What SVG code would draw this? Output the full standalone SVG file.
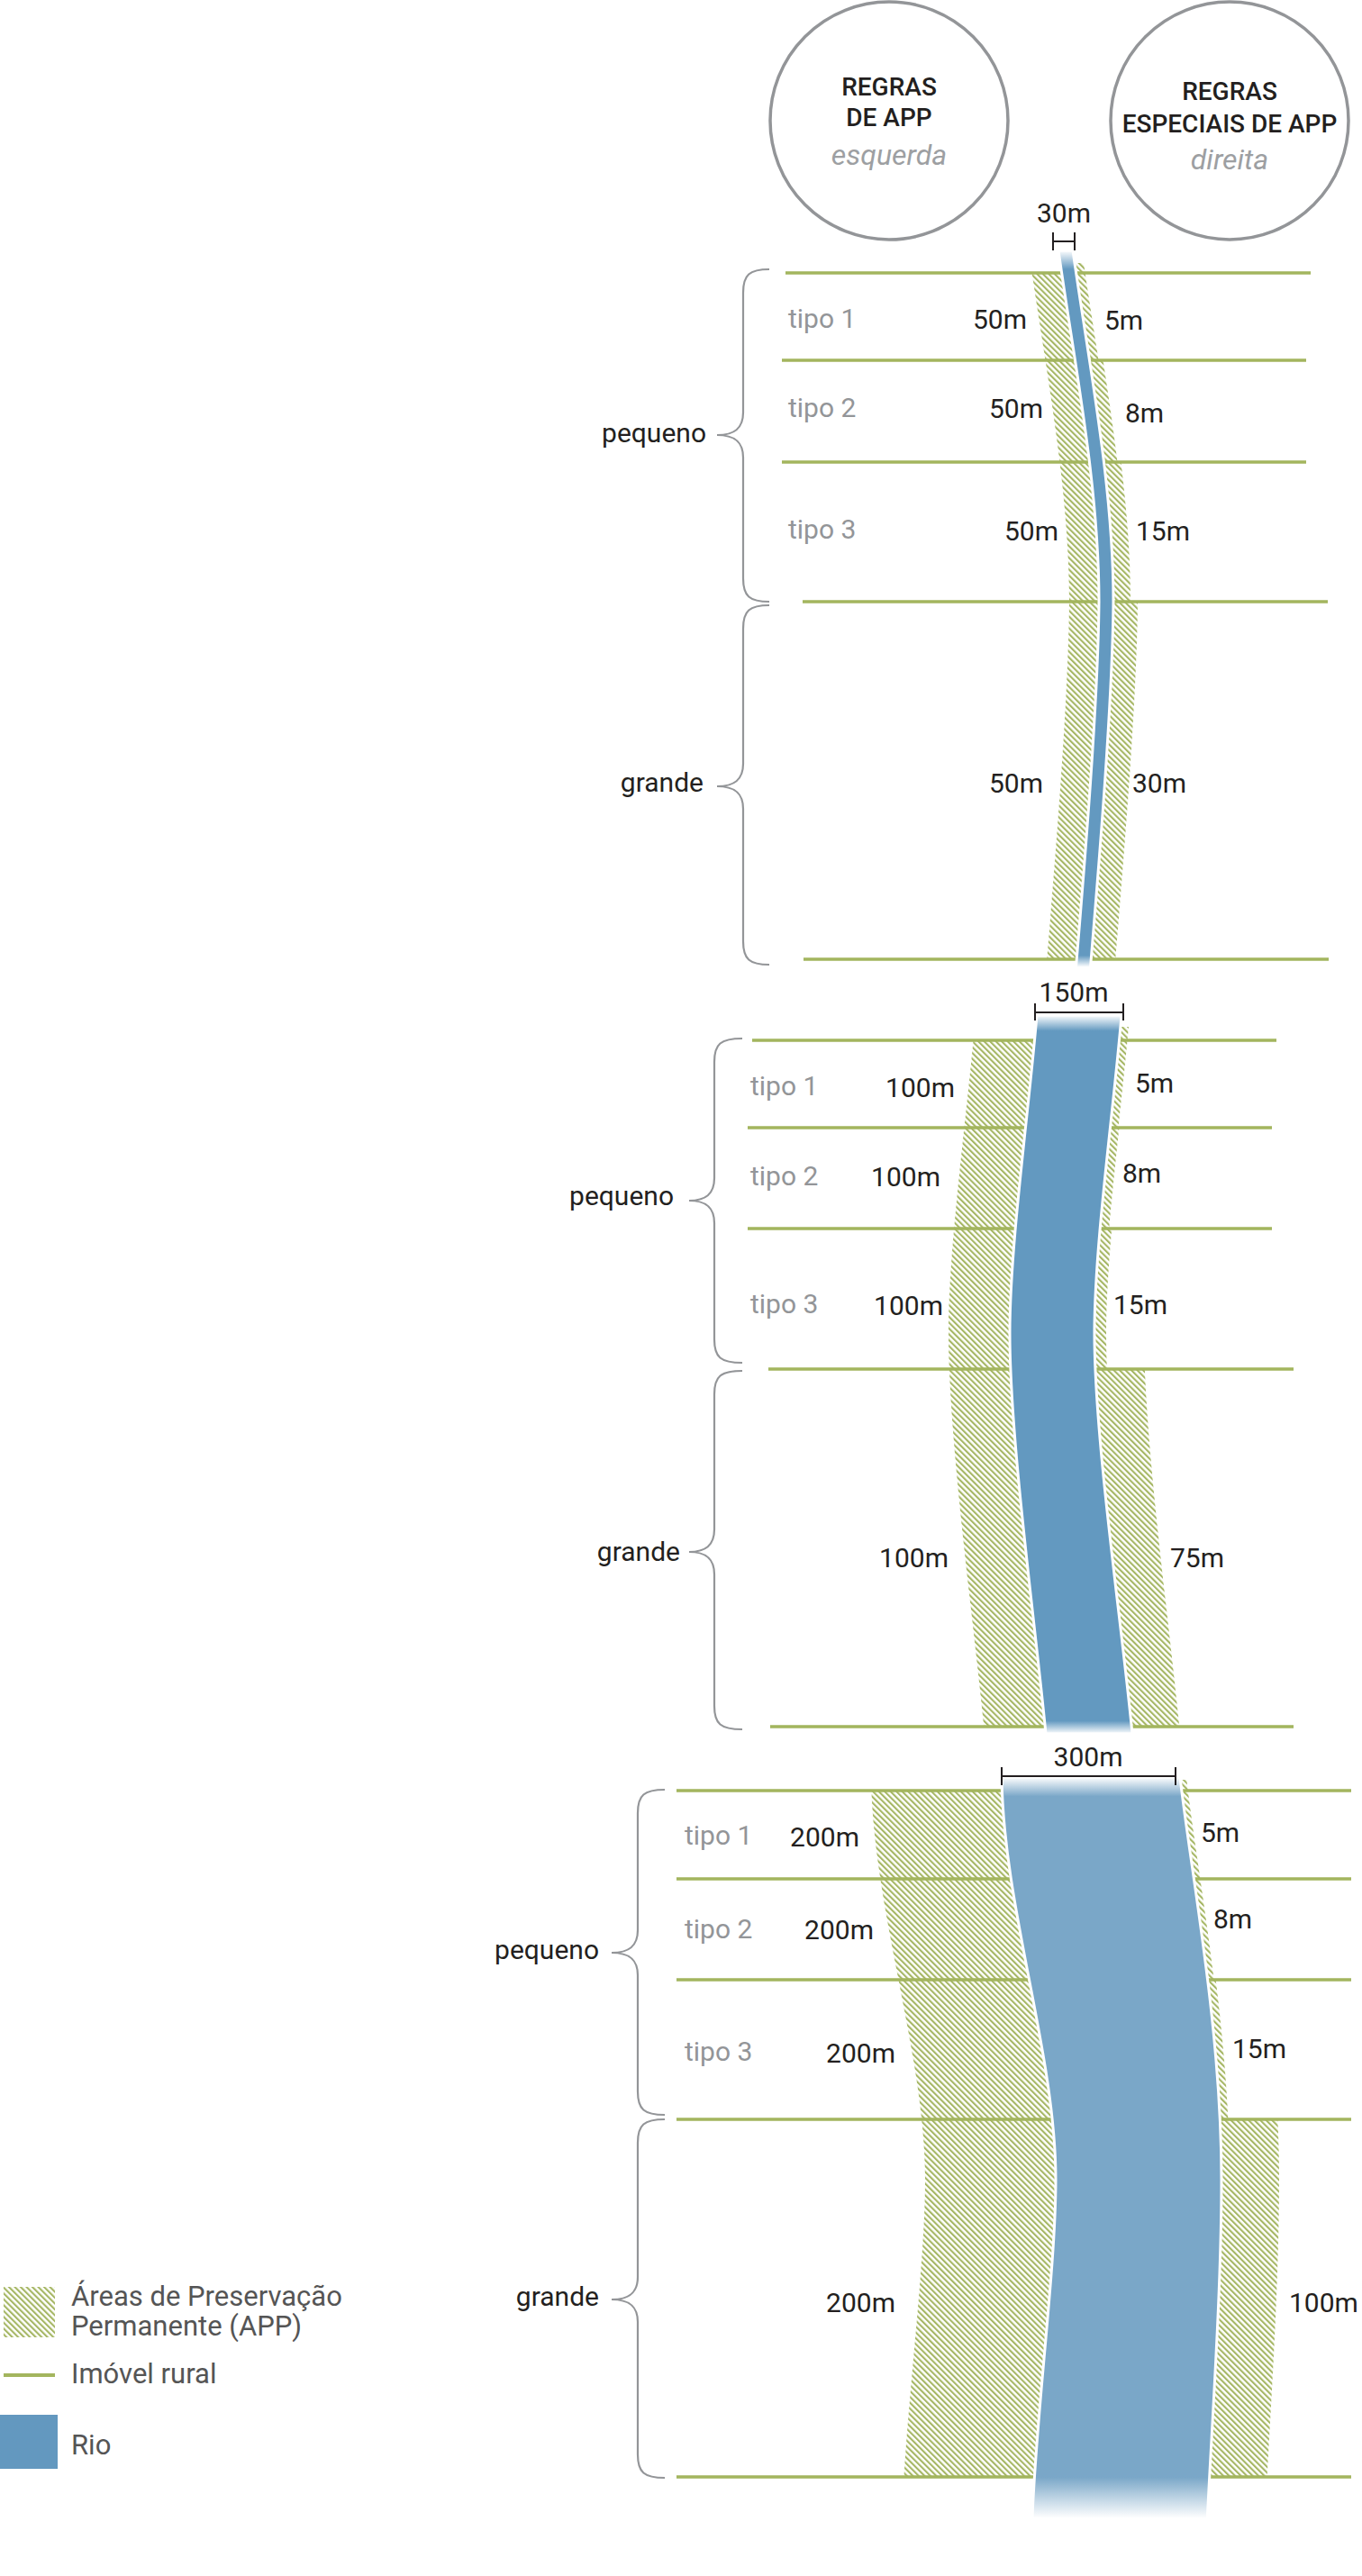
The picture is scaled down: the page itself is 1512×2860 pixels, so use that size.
<svg xmlns="http://www.w3.org/2000/svg" width="1512" height="2860" viewBox="0 0 1512 2860">
<style>
.circ{fill:none;stroke:#939598;stroke-width:3.5}
.ct{font-family:Roboto,'Liberation Sans',sans-serif;font-size:28px;font-weight:500;fill:#231f20;text-anchor:middle}
.ci{font-family:Roboto,'Liberation Sans',sans-serif;font-size:32px;font-style:italic;fill:#9d9fa2;text-anchor:middle}
.lbl{font-family:Roboto,'Liberation Sans',sans-serif;font-size:30px;fill:#231f20}
.end{text-anchor:end}
.mid{text-anchor:middle}
.tipo{font-family:Roboto,'Liberation Sans',sans-serif;font-size:30px;fill:#939598}
.prop{fill:none;stroke:#a3b55e;stroke-width:3.5}
.brace{fill:none;stroke:#939598;stroke-width:2.2}
.bar{fill:none;stroke:#231f20;stroke-width:2}
.app{fill:url(#hatch)}
.river{stroke:#ffffff;stroke-width:3}
.leg{font-family:Roboto,'Liberation Sans',sans-serif;font-size:31px;fill:#555555}
</style>
<defs>
<pattern id="hatch" patternUnits="userSpaceOnUse" width="4.6" height="4.6" patternTransform="rotate(-45)">
<rect x="0" y="0" width="2.1" height="4.6" fill="#a5b663"/>
</pattern>
<linearGradient id="g1" gradientUnits="userSpaceOnUse" x1="0" y1="278" x2="0" y2="1080">
<stop offset="0" stop-color="#ffffff"/><stop offset="0.026" stop-color="#6399c0"/><stop offset="0.976" stop-color="#6399c0"/><stop offset="0.992" stop-color="#ffffff"/>
</linearGradient>
<linearGradient id="g2" gradientUnits="userSpaceOnUse" x1="0" y1="1127" x2="0" y2="1925">
<stop offset="0" stop-color="#ffffff"/><stop offset="0.022" stop-color="#6399c0"/><stop offset="0.982" stop-color="#6399c0"/><stop offset="1" stop-color="#ffffff"/>
</linearGradient>
<linearGradient id="g3" gradientUnits="userSpaceOnUse" x1="0" y1="1973" x2="0" y2="2800">
<stop offset="0" stop-color="#ffffff"/><stop offset="0.026" stop-color="#7aa7c8"/><stop offset="0.94" stop-color="#7aa7c8"/><stop offset="0.995" stop-color="#ffffff"/>
</linearGradient>
<clipPath id="c1L"><rect x="0" y="303" width="1512" height="762"/></clipPath>
<clipPath id="c1a"><rect x="0" y="292" width="1512" height="108"/></clipPath>
<clipPath id="c1b"><rect x="0" y="400" width="1512" height="113"/></clipPath>
<clipPath id="c1c"><rect x="0" y="513" width="1512" height="155"/></clipPath>
<clipPath id="c1d"><rect x="0" y="668" width="1512" height="397"/></clipPath>
<clipPath id="c2L"><rect x="0" y="1155" width="1512" height="762"/></clipPath>
<clipPath id="c2a"><rect x="0" y="1140" width="1512" height="112"/></clipPath>
<clipPath id="c2b"><rect x="0" y="1252" width="1512" height="112"/></clipPath>
<clipPath id="c2c"><rect x="0" y="1364" width="1512" height="156"/></clipPath>
<clipPath id="c2d"><rect x="0" y="1520" width="1512" height="397"/></clipPath>
<clipPath id="c3L"><rect x="0" y="1988" width="1512" height="762"/></clipPath>
<clipPath id="c3ab"><rect x="0" y="1976" width="1512" height="222"/></clipPath>
<clipPath id="c3c"><rect x="0" y="2198" width="1512" height="155"/></clipPath>
<clipPath id="c3d"><rect x="0" y="2353" width="1512" height="397"/></clipPath>
</defs>

<g id="circle-esquerda">
<circle class="circ" cx="987" cy="134" r="132"/>
<text class="ct" x="987" y="106">REGRAS</text>
<text class="ct" x="987" y="140">DE APP</text>
<text class="ci" x="987" y="183">esquerda</text>
</g>
<g id="circle-direita">
<circle class="circ" cx="1365" cy="134" r="132"/>
<text class="ct" x="1365" y="111">REGRAS</text>
<text class="ct" x="1365" y="147">ESPECIAIS DE APP</text>
<text class="ci" x="1365" y="188">direita</text>
</g>

<g id="rio-30m">
<g id="app-30m">
<path class="app" clip-path="url(#c1L)" d="M1142,278 C1159,400 1187,538 1187,668 C1186,780 1171,960 1161,1080 L1194,1080 C1204,960 1219,780 1220,668 C1220,538 1192,400 1175,278 Z"/>
<path class="app" clip-path="url(#c1a)" d="M1191,278 C1208,400 1236,538 1236,668 C1235,780 1220,960 1210,1080 L1220,1080 C1230,960 1245,780 1246,668 C1246,538 1218,400 1201,278 Z"/>
<path class="app" clip-path="url(#c1b)" d="M1191,278 C1208,400 1236,538 1236,668 C1235,780 1220,960 1210,1080 L1225,1080 C1235,960 1250,780 1251,668 C1251,538 1223,400 1206,278 Z"/>
<path class="app" clip-path="url(#c1c)" d="M1191,278 C1208,400 1236,538 1236,668 C1235,780 1220,960 1210,1080 L1229,1080 C1239,960 1254,780 1255,668 C1255,538 1227,400 1210,278 Z"/>
<path class="app" clip-path="url(#c1d)" d="M1191,278 C1208,400 1236,538 1236,668 C1235,780 1220,960 1210,1080 L1237,1080 C1247,960 1262,780 1263,668 C1263,538 1235,400 1218,278 Z"/>
</g>
<g id="imovel-30m">
<path class="prop" d="M872,303 H1455 M868,400 H1450 M868,513 H1450 M891,668 H1474 M892,1065 H1475"/>
</g>
<path id="agua-30m" class="river" fill="url(#g1)" d="M1175,278 C1192,400 1220,538 1220,668 C1219,780 1204,960 1194,1080 L1210,1080 C1220,960 1235,780 1236,668 C1236,538 1208,400 1191,278 Z"/>
<g id="escala-30m">
<path class="bar" d="M1169,258 V278 M1193,258 V278 M1169,268 H1193"/>
<text class="lbl mid" x="1181" y="247">30m</text>
</g>
<g id="chaves-30m">
<path class="brace" d="M854,299 C832,299 825,305 825,325 L825,458 C825,476 815,483 796,483 C815,483 825,490 825,508 L825,642 C825,662 832,668 854,668"/>
<path class="brace" d="M854,672 C832,672 825,678 825,698 L825,848 C825,866 815,873 796,873 C815,873 825,880 825,898 L825,1045 C825,1065 832,1071 854,1071"/>
<text class="lbl end" x="784" y="491">pequeno</text>
<text class="lbl end" x="781" y="879">grande</text>
</g>
<g id="rotulos-30m">
<text class="tipo" x="875" y="364">tipo 1</text>
<text class="tipo" x="875" y="463">tipo 2</text>
<text class="tipo" x="875" y="598">tipo 3</text>
<text class="lbl end" x="1140" y="365">50m</text>
<text class="lbl" x="1226" y="366">5m</text>
<text class="lbl end" x="1158" y="464">50m</text>
<text class="lbl" x="1249" y="469">8m</text>
<text class="lbl end" x="1175" y="600">50m</text>
<text class="lbl" x="1261" y="600">15m</text>
<text class="lbl end" x="1158" y="880">50m</text>
<text class="lbl" x="1257" y="880">30m</text>
</g>
</g>

<g id="rio-150m">
<g id="app-150m">
<path class="app" clip-path="url(#c2L)" d="M1083,1127 C1075,1227 1053,1380 1053,1480 C1053,1600 1081,1800 1093,1925 L1161,1925 C1149,1800 1121,1600 1121,1480 C1121,1380 1143,1227 1151,1127 Z"/>
<path class="app" clip-path="url(#c2a)" d="M1245,1127 C1237,1227 1215,1380 1215,1480 C1215,1600 1243,1800 1255,1925 L1264,1925 C1252,1800 1224,1600 1224,1480 C1224,1380 1246,1227 1254,1127 Z"/>
<path class="app" clip-path="url(#c2b)" d="M1245,1127 C1237,1227 1215,1380 1215,1480 C1215,1600 1243,1800 1255,1925 L1265,1925 C1253,1800 1225,1600 1225,1480 C1225,1380 1247,1227 1255,1127 Z"/>
<path class="app" clip-path="url(#c2c)" d="M1245,1127 C1237,1227 1215,1380 1215,1480 C1215,1600 1243,1800 1255,1925 L1268,1925 C1256,1800 1228,1600 1228,1480 C1228,1380 1250,1227 1258,1127 Z"/>
<path class="app" clip-path="url(#c2d)" d="M1245,1127 C1237,1227 1215,1380 1215,1480 C1215,1600 1243,1800 1255,1925 L1310,1925 C1298,1800 1270,1600 1270,1480 C1270,1380 1292,1227 1300,1127 Z"/>
</g>
<g id="imovel-150m">
<path class="prop" d="M835,1155 H1417 M830,1252 H1412 M830,1364 H1412 M853,1520 H1436 M855,1917 H1436"/>
</g>
<path id="agua-150m" class="river" fill="url(#g2)" d="M1151,1127 C1143,1227 1121,1380 1121,1480 C1121,1600 1149,1800 1161,1925 L1257,1925 C1245,1800 1215,1600 1215,1480 C1215,1380 1237,1227 1245,1127 Z"/>
<g id="escala-150m">
<path class="bar" d="M1149,1114 V1133 M1247,1114 V1133 M1149,1124 H1247"/>
<text class="lbl mid" x="1192" y="1112">150m</text>
</g>
<g id="chaves-150m">
<path class="brace" d="M824,1153 C800,1153 793,1159 793,1179 L793,1308 C793,1326 783,1333 765,1333 C783,1333 793,1340 793,1358 L793,1487 C793,1507 800,1513 824,1513"/>
<path class="brace" d="M824,1522 C800,1522 793,1528 793,1548 L793,1698 C793,1716 783,1723 765,1723 C783,1723 793,1730 793,1748 L793,1894 C793,1914 800,1920 824,1920"/>
<text class="lbl end" x="748" y="1338">pequeno</text>
<text class="lbl end" x="755" y="1733">grande</text>
</g>
<g id="rotulos-150m">
<text class="tipo" x="833" y="1216">tipo 1</text>
<text class="tipo" x="833" y="1316">tipo 2</text>
<text class="tipo" x="833" y="1458">tipo 3</text>
<text class="lbl end" x="1060" y="1218">100m</text>
<text class="lbl" x="1260" y="1213">5m</text>
<text class="lbl end" x="1044" y="1317">100m</text>
<text class="lbl" x="1246" y="1313">8m</text>
<text class="lbl end" x="1047" y="1460">100m</text>
<text class="lbl" x="1236" y="1459">15m</text>
<text class="lbl end" x="1053" y="1740">100m</text>
<text class="lbl" x="1299" y="1740">75m</text>
</g>
</g>

<g id="rio-300m">
<g id="app-300m">
<path class="app" clip-path="url(#c3L)" d="M967,1973 C969,2120 1027,2280 1027,2420 C1027,2520 1005,2680 1001,2800 L1146,2800 C1150,2680 1172,2520 1172,2420 C1172,2280 1114,2120 1112,1973 Z"/>
<path class="app" clip-path="url(#c3ab)" d="M1310,1973 C1322,2080 1356,2250 1356,2420 C1356,2540 1346,2680 1340,2800 L1347,2800 C1353,2680 1363,2540 1363,2420 C1363,2250 1329,2080 1317,1973 Z"/>
<path class="app" clip-path="url(#c3c)" d="M1310,1973 C1322,2080 1356,2250 1356,2420 C1356,2540 1346,2680 1340,2800 L1349,2800 C1355,2680 1365,2540 1365,2420 C1365,2250 1331,2080 1319,1973 Z"/>
<path class="app" clip-path="url(#c3d)" d="M1310,1973 C1322,2080 1356,2250 1356,2420 C1356,2540 1346,2680 1340,2800 L1404,2800 C1410,2680 1420,2540 1420,2420 C1420,2250 1386,2080 1374,1973 Z"/>
</g>
<g id="imovel-300m">
<path class="prop" d="M751,1988 H1500 M751,2086 H1500 M751,2198 H1500 M751,2353 H1500 M751,2750 H1500"/>
</g>
<path id="agua-300m" class="river" fill="url(#g3)" d="M1112,1973 C1114,2120 1172,2280 1172,2420 C1172,2520 1150,2680 1146,2796 L1340,2802 C1346,2680 1356,2540 1356,2420 C1356,2250 1322,2080 1310,1973 Z"/>
<g id="escala-300m">
<path class="bar" d="M1112,1962 V1982 M1305,1962 V1982 M1112,1972 H1305"/>
<text class="lbl mid" x="1208" y="1961">300m</text>
</g>
<g id="chaves-300m">
<path class="brace" d="M738,1987 C715,1987 708,1993 708,2013 L708,2143 C708,2161 698,2168 679,2168 C698,2168 708,2175 708,2193 L708,2322 C708,2342 715,2348 738,2348"/>
<path class="brace" d="M738,2353 C715,2353 708,2359 708,2379 L708,2528 C708,2546 698,2553 679,2553 C698,2553 708,2560 708,2578 L708,2725 C708,2745 715,2751 738,2751"/>
<text class="lbl end" x="665" y="2175">pequeno</text>
<text class="lbl end" x="665" y="2560">grande</text>
</g>
<g id="rotulos-300m">
<text class="tipo" x="760" y="2048">tipo 1</text>
<text class="tipo" x="760" y="2152">tipo 2</text>
<text class="tipo" x="760" y="2288">tipo 3</text>
<text class="lbl end" x="954" y="2050">200m</text>
<text class="lbl" x="1333" y="2045">5m</text>
<text class="lbl end" x="970" y="2153">200m</text>
<text class="lbl" x="1347" y="2141">8m</text>
<text class="lbl end" x="994" y="2290">200m</text>
<text class="lbl" x="1368" y="2285">15m</text>
<text class="lbl end" x="994" y="2567">200m</text>
<text class="lbl" x="1431" y="2567">100m</text>
</g>
</g>

<g id="legenda">
<rect class="app" x="4" y="2539" width="57" height="56"/>
<text class="leg" x="79" y="2560">Áreas de Preservação</text>
<text class="leg" x="79" y="2593">Permanente (APP)</text>
<path class="prop" d="M4,2637 H61" style="stroke-width:4"/>
<text class="leg" x="79" y="2646">Imóvel rural</text>
<rect x="0" y="2681" width="64" height="60" fill="#6398bf"/>
<text class="leg" x="79" y="2725">Rio</text>
</g>
</svg>
